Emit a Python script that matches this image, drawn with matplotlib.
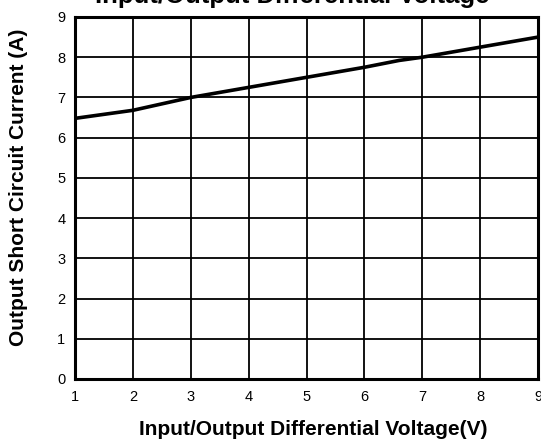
import matplotlib
matplotlib.use("Agg")
import matplotlib.pyplot as plt

x_vals = [1, 2, 3, 4, 5, 6, 6.6, 7, 8, 9]
current = [6.48, 6.68, 7.0, 7.25, 7.5, 7.75, 7.92, 8.0, 8.25, 8.5]
x_ticks = [1, 2, 3, 4, 5, 6, 7, 8, 9]
y_ticks = [0, 1, 2, 3, 4, 5, 6, 7, 8, 9]

plt.rcParams['font.family'] = ['Liberation Sans', 'DejaVu Sans']

fig = plt.figure(figsize=(5.41, 4.47), dpi=100)
ax = fig.add_axes([75/541, 1-379/447, (538-75)/541, (379-17)/447])
ax.plot(x_vals, current, color='black', lw=2.6, solid_capstyle='butt', zorder=3)
ax.set_xlim(1, 9)
ax.set_ylim(0, 9)
ax.set_xticks(x_ticks)
ax.set_yticks(y_ticks)
ax.grid(True, color='black', lw=1.3)
ax.tick_params(length=0, labelsize=10.5)
ax.tick_params(axis='y', pad=7)
ax.tick_params(axis='x', pad=8)
for s in ax.spines.values():
    s.set_linewidth(2.2)
ax.set_xlabel('Input/Output Differential Voltage(V)', fontsize=15, fontweight='bold')
ax.xaxis.set_label_coords(0.515, -0.113)
ax.set_ylabel('Output Short Circuit Current (A)', fontsize=15, fontweight='bold')
ax.yaxis.set_label_coords(-0.1015, 0.53)
fig.text(292/541, 1-3/447, 'Input/Output Differential Voltage', fontsize=18.5, fontweight='bold',
         ha='center', va='baseline')
fig.savefig('out.png', dpi=100)
